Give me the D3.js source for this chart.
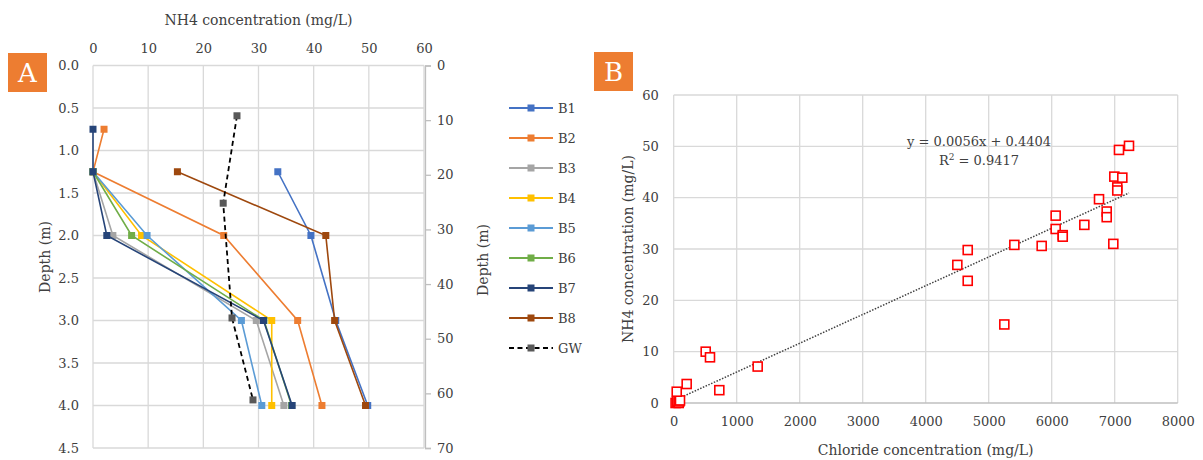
<!DOCTYPE html>
<html><head><meta charset="utf-8">
<script src="https://cdn.jsdelivr.net/npm/d3@7"></script>
<style>
body{margin:0;background:#fff;}
text{font-family:"DejaVu Serif",serif;fill:#404040;}
</style></head>
<body><svg id="c" width="1203" height="460"></svg>
<script>
// ---------- Panel A data ----------
const depthsA = [0.75, 1.25, 2.0, 3.0, 4.0];
const seriesNames = ["B1","B2","B3","B4","B5","B6","B7","B8"];
const B1 = [null, 33.5, 39.5, 44.0, 49.8];
const B2 = [2.0, 0, 23.7, 37.1, 41.5];
const B3 = [null, 0, 3.6, 29.6, 34.6];
const B4 = [null, 0, 8.8, 32.4, 32.4];
const B5 = [null, 0, 9.8, 26.9, 30.6];
const B6 = [null, 0, 7.0, 31.0, 36.0];
const B7 = [0, 0, 2.5, 30.9, 36.1];
const B8 = [null, 15.3, 42.2, 43.8, 49.4];
const seriesColors = ["#4472C4","#ED7D31","#A5A5A5","#FFC000","#5B9BD5","#70AD47","#264478","#9E480E"];
const gwDepth = [9.2, 25.2, 46.2, 61.2];      // on secondary depth axis (0-70)
const gwConc  = [26.1, 23.6, 25.2, 29.0];
const xTicksA = [0,10,20,30,40,50,60];
const yTicksA = [0,0.5,1,1.5,2,2.5,3,3.5,4,4.5];
const y2TicksA = [0,10,20,30,40,50,60,70];

// ---------- Panel B data ----------
const chloride = [30,50,60,80,90,100,48,206,508,576,724,1333,4502,4667,4667,5407,5841,6063,6063,6175,6175,6518,6751,6873,6873,6978,6994,7121,7041,7041,7068,7227,5248];
const nh4      = [0,0.2,0.4,0,0.3,0.5,2.2,3.7,10.0,8.9,2.5,7.1,26.9,29.8,23.8,30.8,30.6,36.5,33.9,32.7,32.4,34.7,39.7,37.3,36.2,31.0,44.1,43.9,42.0,41.4,49.3,50.1,15.3];
const xTicksB = [0,1000,2000,3000,4000,5000,6000,7000,8000];
const yTicksB = [0,10,20,30,40,50,60];
const slope = 0.0056, intercept = 0.4404;
const eqText = "y = 0.0056x + 0.4404";

const svg = d3.select("#c");
const grid = "#D9D9D9";

// ================= PANEL A =================
const xA = d3.scaleLinear().domain([0,60]).range([93,424]);
const yA = d3.scaleLinear().domain([0,4.5]).range([65.5,448]);
const yA2 = d3.scaleLinear().domain([0,70]).range([65.5,448]);
const gA = svg.append("g");

// gridlines
gA.append("g").selectAll("line").data(xTicksA).join("line")
  .attr("x1",d=>xA(d)).attr("x2",d=>xA(d)).attr("y1",yA(0)).attr("y2",yA(4.5))
  .attr("stroke",grid).attr("stroke-width",1.3);
gA.append("g").selectAll("line").data(yTicksA).join("line")
  .attr("x1",xA(0)).attr("x2",xA(60)).attr("y1",d=>yA(d)).attr("y2",d=>yA(d))
  .attr("stroke",grid).attr("stroke-width",1.3);

// top axis
const topAx = gA.append("g").attr("transform",`translate(0,${yA(0)})`)
  .call(d3.axisTop(xA).tickValues(xTicksA).tickSize(0).tickPadding(13).tickFormat(d3.format("d")));
topAx.select(".domain").remove();
// left axis
const leftAx = gA.append("g").attr("transform",`translate(${xA(0)},0)`)
  .call(d3.axisLeft(yA).tickValues(yTicksA).tickSize(0).tickPadding(14).tickFormat(d3.format(".1f")));
leftAx.select(".domain").remove();
// right axis
const rightAx = gA.append("g").attr("transform",`translate(${xA(60)+1},0)`)
  .call(d3.axisRight(yA2).tickValues(y2TicksA).tickSize(6).tickPadding(6).tickFormat(d3.format("d")));
rightAx.select(".domain").attr("stroke","#BFBFBF").attr("stroke-width",1.3);
rightAx.selectAll(".tick line").attr("stroke","#BFBFBF").attr("stroke-width",1.3);
[topAx,leftAx,rightAx].forEach(a=>a.selectAll("text").attr("font-size",13).attr("fill","#404040").attr("font-family","DejaVu Serif"));

// titles
gA.append("text").attr("x",(xA(0)+xA(60))/2).attr("y",25).attr("text-anchor","middle").attr("font-size",14).text("NH4 concentration (mg/L)");
gA.append("text").attr("transform",`translate(50,257) rotate(-90)`).attr("text-anchor","middle").attr("font-size",14).text("Depth (m)");
gA.append("text").attr("transform",`translate(488,260) rotate(-90)`).attr("text-anchor","middle").attr("font-size",14).text("Depth (m)");

// series
const allSeries = [B1,B2,B3,B4,B5,B6,B7,B8];
const lineA = d3.line().defined(d=>d.v!=null).x(d=>xA(d.v)).y(d=>yA(d.d));
allSeries.forEach((s,i)=>{
  const pts = s.map((v,j)=>({v:v,d:depthsA[j]}));
  gA.append("path").datum(pts).attr("d",lineA).attr("fill","none")
    .attr("stroke",seriesColors[i]).attr("stroke-width",1.6);
  gA.append("g").selectAll("rect").data(pts.filter(p=>p.v!=null)).join("rect")
    .attr("x",p=>xA(p.v)-3.5).attr("y",p=>yA(p.d)-3.5).attr("width",7).attr("height",7)
    .attr("fill",seriesColors[i]);
});
// GW
const gwPts = gwDepth.map((d,j)=>({v:gwConc[j],d:d}));
gA.append("path").datum(gwPts).attr("d",d3.line().x(d=>xA(d.v)).y(d=>yA2(d.d)))
  .attr("fill","none").attr("stroke","#000").attr("stroke-width",1.8).attr("stroke-dasharray","5,3.5");
gA.append("g").selectAll("rect").data(gwPts).join("rect")
  .attr("x",p=>xA(p.v)-3.5).attr("y",p=>yA2(p.d)-3.5).attr("width",7).attr("height",7).attr("fill","#595959");

// legend
const legNames = seriesNames.concat(["GW"]);
const legColors = seriesColors.concat(["#595959"]);
const leg = gA.append("g");
legNames.forEach((n,i)=>{
  const y = 108 + i*30;
  const isGW = n==="GW";
  leg.append("line").attr("x1",509).attr("x2",553).attr("y1",y).attr("y2",y)
    .attr("stroke",isGW?"#000":legColors[i]).attr("stroke-width",1.8)
    .attr("stroke-dasharray",isGW?"5,3.5":null);
  leg.append("rect").attr("x",527.5).attr("y",y-3.5).attr("width",7).attr("height",7).attr("fill",legColors[i]);
  leg.append("text").attr("x",558).attr("y",y).attr("dy","0.35em").attr("font-size",13).text(n);
});

// label box A
svg.append("rect").attr("x",8).attr("y",53).attr("width",39).attr("height",39).attr("fill","#ED7D31");
svg.append("text").attr("x",27.5).attr("y",73).attr("dy","0.36em").attr("text-anchor","middle")
  .attr("font-size",26).style("fill","#fff").attr("font-family","Liberation Serif").text("A");

// ================= PANEL B =================
const xB = d3.scaleLinear().domain([0,8000]).range([673.7,1177.7]);
const yB = d3.scaleLinear().domain([0,60]).range([403,95]);
const gB = svg.append("g");
gB.append("g").selectAll("line").data(xTicksB).join("line")
  .attr("x1",d=>xB(d)).attr("x2",d=>xB(d)).attr("y1",yB(0)).attr("y2",yB(60))
  .attr("stroke",grid).attr("stroke-width",1.3);
gB.append("g").selectAll("line").data(yTicksB).join("line")
  .attr("x1",xB(0)).attr("x2",xB(8000)).attr("y1",d=>yB(d)).attr("y2",d=>yB(d))
  .attr("stroke",d=>d===0?"#BFBFBF":grid).attr("stroke-width",1.3);

const bAx = gB.append("g").attr("transform",`translate(0,${yB(0)})`)
  .call(d3.axisBottom(xB).tickValues(xTicksB).tickSize(0).tickPadding(14).tickFormat(d3.format("d")));
bAx.select(".domain").remove();
const lAx = gB.append("g").attr("transform",`translate(${xB(0)},0)`)
  .call(d3.axisLeft(yB).tickValues(yTicksB).tickSize(0).tickPadding(15).tickFormat(d3.format("d")));
lAx.select(".domain").remove();
[bAx,lAx].forEach(a=>a.selectAll("text").attr("font-size",13).attr("fill","#404040").attr("font-family","DejaVu Serif"));

gB.append("text").attr("x",(xB(0)+xB(8000))/2).attr("y",455).attr("text-anchor","middle").attr("font-size",14).text("Chloride concentration (mg/L)");
gB.append("text").attr("transform",`translate(633,249) rotate(-90)`).attr("text-anchor","middle").attr("font-size",14).text("NH4 concentration (mg/L)");

// trendline
const tx = d3.extent(chloride);
gB.append("line").attr("x1",xB(tx[0])).attr("y1",yB(slope*tx[0]+intercept))
  .attr("x2",xB(tx[1])).attr("y2",yB(slope*tx[1]+intercept))
  .attr("stroke","#404040").attr("stroke-width",1.5).attr("stroke-dasharray","1.5,1.5");

// points
gB.append("g").selectAll("rect").data(chloride.map((c,i)=>({c:c,n:nh4[i]}))).join("rect")
  .attr("x",d=>xB(d.c)-4.5).attr("y",d=>yB(d.n)-4.5).attr("width",9).attr("height",9)
  .attr("fill","#fff").attr("stroke","#FF0000").attr("stroke-width",1.6);

// equation
gB.append("text").attr("x",979).attr("y",146).attr("text-anchor","middle").attr("font-size",13).text(eqText);
const r2 = gB.append("text").attr("x",979).attr("y",165).attr("text-anchor","middle").attr("font-size",13);
r2.append("tspan").text("R");
r2.append("tspan").attr("dy",-5).attr("font-size",9).text("2");
r2.append("tspan").attr("dy",5).text(" = 0.9417");

// label box B
svg.append("rect").attr("x",594).attr("y",52).attr("width",39).attr("height",39).attr("fill","#ED7D31");
svg.append("text").attr("x",613.5).attr("y",72).attr("dy","0.36em").attr("text-anchor","middle")
  .attr("font-size",26).style("fill","#fff").attr("font-family","Liberation Serif").text("B");
</script></body></html>
